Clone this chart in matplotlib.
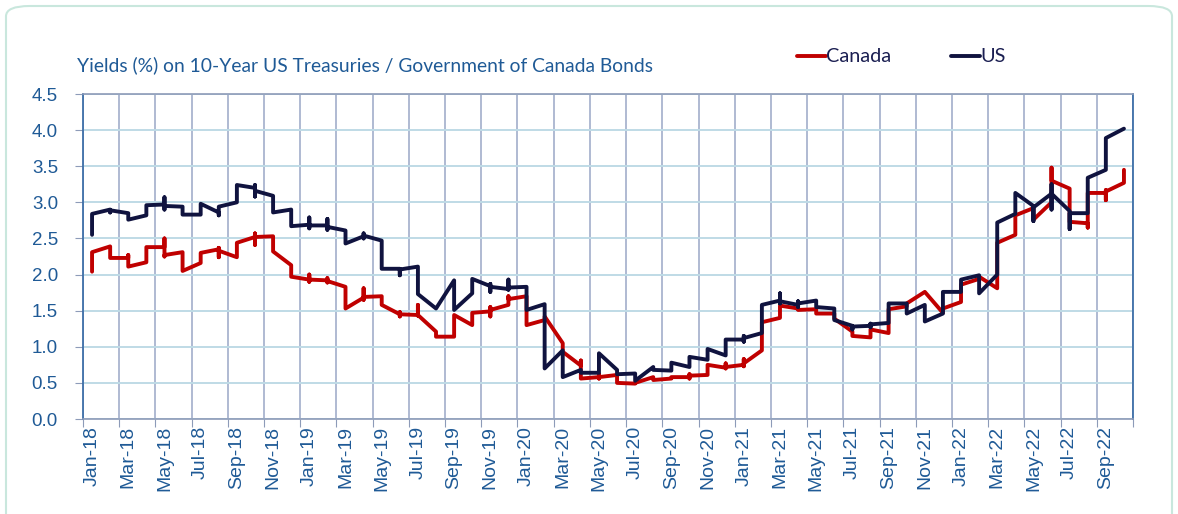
import matplotlib
matplotlib.use("Agg")
import matplotlib.pyplot as plt
from matplotlib.patches import FancyBboxPatch

months = ["Jan-18","Feb-18","Mar-18","Apr-18","May-18","Jun-18","Jul-18","Aug-18","Sep-18","Oct-18","Nov-18","Dec-18",
          "Jan-19","Feb-19","Mar-19","Apr-19","May-19","Jun-19","Jul-19","Aug-19","Sep-19","Oct-19","Nov-19","Dec-19",
          "Jan-20","Feb-20","Mar-20","Apr-20","May-20","Jun-20","Jul-20","Aug-20","Sep-20","Oct-20","Nov-20","Dec-20",
          "Jan-21","Feb-21","Mar-21","Apr-21","May-21","Jun-21","Jul-21","Aug-21","Sep-21","Oct-21","Nov-21","Dec-21",
          "Jan-22","Feb-22","Mar-22","Apr-22","May-22","Jun-22","Jul-22","Aug-22","Sep-22","Oct-22"]

# observations within each month (plotted at the same month position)
us = [
    [2.55, 2.84], [2.90, 2.86, 2.89], [2.85, 2.76], [2.82, 2.96], [2.97, 3.07, 2.90, 2.95], [2.94, 2.83],
    [2.83, 2.98], [2.86, 2.82, 2.94], [3.00, 3.24], [3.20, 3.24, 3.08, 3.16], [3.09, 2.86], [2.90, 2.67],
    [2.69, 2.79, 2.64, 2.68], [2.68, 2.77, 2.62, 2.66], [2.61, 2.43], [2.53, 2.57, 2.50, 2.54], [2.47, 2.08],
    [2.08, 1.99, 2.07], [2.11, 1.73], [1.53], [1.92, 1.51], [1.74, 1.94], [1.84, 1.87, 1.76, 1.83],
    [1.80, 1.93, 1.79, 1.82], [1.83, 1.51], [1.59, 0.70], [0.95, 0.58], [0.68, 0.64], [0.64, 0.91],
    [0.68, 0.62], [0.63, 0.53], [0.72, 0.68], [0.67, 0.78], [0.72, 0.86], [0.82, 0.97], [0.88, 1.10],
    [1.10, 1.15, 1.07, 1.12], [1.19, 1.58], [1.64, 1.74, 1.60, 1.63], [1.58, 1.63, 1.55, 1.60], [1.64, 1.55],
    [1.53, 1.37], [1.29, 1.24, 1.28], [1.29, 1.32, 1.27, 1.31], [1.33, 1.60], [1.60, 1.46], [1.58, 1.35],
    [1.46, 1.76], [1.76, 1.93], [1.99, 1.74], [2.00, 2.72], [2.84, 3.13], [2.95, 2.74, 2.93],
    [3.12, 3.25, 2.90, 3.12], [2.88, 2.63, 2.85], [2.85, 3.34], [3.45, 3.89], [4.02],
]
canada = [
    [2.04, 2.31], [2.39, 2.23], [2.23, 2.27, 2.11], [2.17, 2.38], [2.38, 2.50, 2.25, 2.27], [2.31, 2.05],
    [2.16, 2.30], [2.35, 2.37, 2.24, 2.33], [2.24, 2.44], [2.52, 2.57, 2.41, 2.52], [2.53, 2.32], [2.13, 1.97],
    [1.93, 2.00, 1.90, 1.93], [1.92, 1.95, 1.89, 1.91], [1.83, 1.53], [1.68, 1.81, 1.65, 1.69], [1.70, 1.58],
    [1.45, 1.48, 1.42, 1.45], [1.44, 1.58, 1.43, 1.44], [1.21, 1.14], [1.14, 1.44], [1.30, 1.47],
    [1.49, 1.55, 1.42, 1.51], [1.58, 1.70, 1.58, 1.66], [1.70, 1.30], [1.37, 1.42], [1.05, 0.93],
    [0.74, 0.81, 0.56], [0.58, 0.62, 0.56, 0.58], [0.61, 0.50], [0.49, 0.50], [0.58, 0.54], [0.56, 0.58],
    [0.58, 0.62, 0.56, 0.60], [0.61, 0.75], [0.71, 0.77, 0.70, 0.72], [0.75, 0.83, 0.73, 0.77], [0.95, 1.34],
    [1.40, 1.57], [1.53, 1.51], [1.52, 1.46], [1.46, 1.39], [1.21, 1.15], [1.13, 1.24], [1.19, 1.52],
    [1.56, 1.60], [1.76], [1.47, 1.53], [1.62, 1.86], [1.94, 1.97], [1.81, 2.44], [2.55, 2.82],
    [2.92, 2.76], [3.00, 3.48, 3.30], [3.19, 2.73], [2.71, 2.65, 3.13], [3.13, 3.17, 3.03, 3.15], [3.27, 3.45],
]

title = "Yields (%) on 10-Year US Treasuries / Government of Canada Bonds"
txt_col = "#1F5A96"
red = "#C00000"
navy = "#10133F"

def flatten(series):
    xs, ys = [], []
    for i, vals in enumerate(series):
        for v in vals:
            xs.append(i + 0.5)
            ys.append(v)
    return xs, ys

plt.rcParams['font.family'] = ['Lato', 'DejaVu Sans']

fig = plt.figure(figsize=(11.78, 5.14), dpi=100)
ax = fig.add_axes([83/1178, 1 - 419/514, (1133-83)/1178, (419-94)/514])

# border of the figure panel
border = FancyBboxPatch((6/1178, -0.2), (1172-6)/1178, 1.2 - 6/514,
                        boxstyle="round,pad=0,rounding_size=0.02",
                        transform=fig.transFigure, fill=False,
                        edgecolor="#C9E7DD", linewidth=1.5, zorder=0)
fig.patches.append(border)

xc, yc = flatten(canada)
xu, yu = flatten(us)
ax.plot(xc, yc, color=red, lw=2.8, label="Canada", zorder=3, solid_capstyle='round')
ax.plot(xu, yu, color=navy, lw=2.8, label="US", zorder=4, solid_capstyle='round')

n = len(months)
ax.set_xlim(0, n)
ax.set_ylim(0, 4.5)

ax.set_xticks(range(0, n + 1, 2))
ax.set_xticklabels([])
ax.set_xticks([i + 0.5 for i in range(0, n, 2)], minor=True)
ax.set_xticklabels([months[i] for i in range(0, n, 2)], minor=True, rotation=90,
                   fontsize=14, color=txt_col, fontfamily=['Liberation Sans', 'DejaVu Sans'])
ax.tick_params(axis='x', which='major', length=6, color="#8D9BB8", direction='out')
ax.tick_params(axis='x', which='minor', length=0, pad=5)

yt = [0.5 * k for k in range(10)]
ax.set_yticks(yt)
ax.set_yticklabels([f"{v:.1f}" for v in yt], fontsize=13.5, color=txt_col,
                   fontfamily=['Liberation Sans', 'DejaVu Sans'])
ax.tick_params(axis='y', length=6, color="#8D9BB8", direction='out', pad=12)

ax.grid(axis='y', color="#BFDBE6", lw=1.4, zorder=1)
ax.grid(axis='x', which='major', color="#A2AECB", lw=1.2, zorder=1)
ax.set_axisbelow(True)

ax.spines['left'].set_color("#3E6FA8")
ax.spines['left'].set_linewidth(1.3)
ax.spines['bottom'].set_color("#8D9BB8")
ax.spines['bottom'].set_linewidth(1.2)
ax.spines['top'].set_color("#8D9BB8")
ax.spines['top'].set_linewidth(1.2)
ax.spines['right'].set_color("#3E6FA8")
ax.spines['right'].set_linewidth(1.3)

fig.text(77/1178, 1 - 65/514, title, fontsize=13.9, color=txt_col, va='center', ha='left')

leg = ax.legend(loc='center left', bbox_to_anchor=(797/1178, 1 - 57/514),
                bbox_transform=fig.transFigure, ncol=2, frameon=False,
                handlelength=1.45, handletextpad=0.02, columnspacing=3.0,
                fontsize=14.3, borderaxespad=0, borderpad=0)
for t in leg.get_texts():
    t.set_color("#1B1F52")

fig.savefig("out.png", dpi=100)
